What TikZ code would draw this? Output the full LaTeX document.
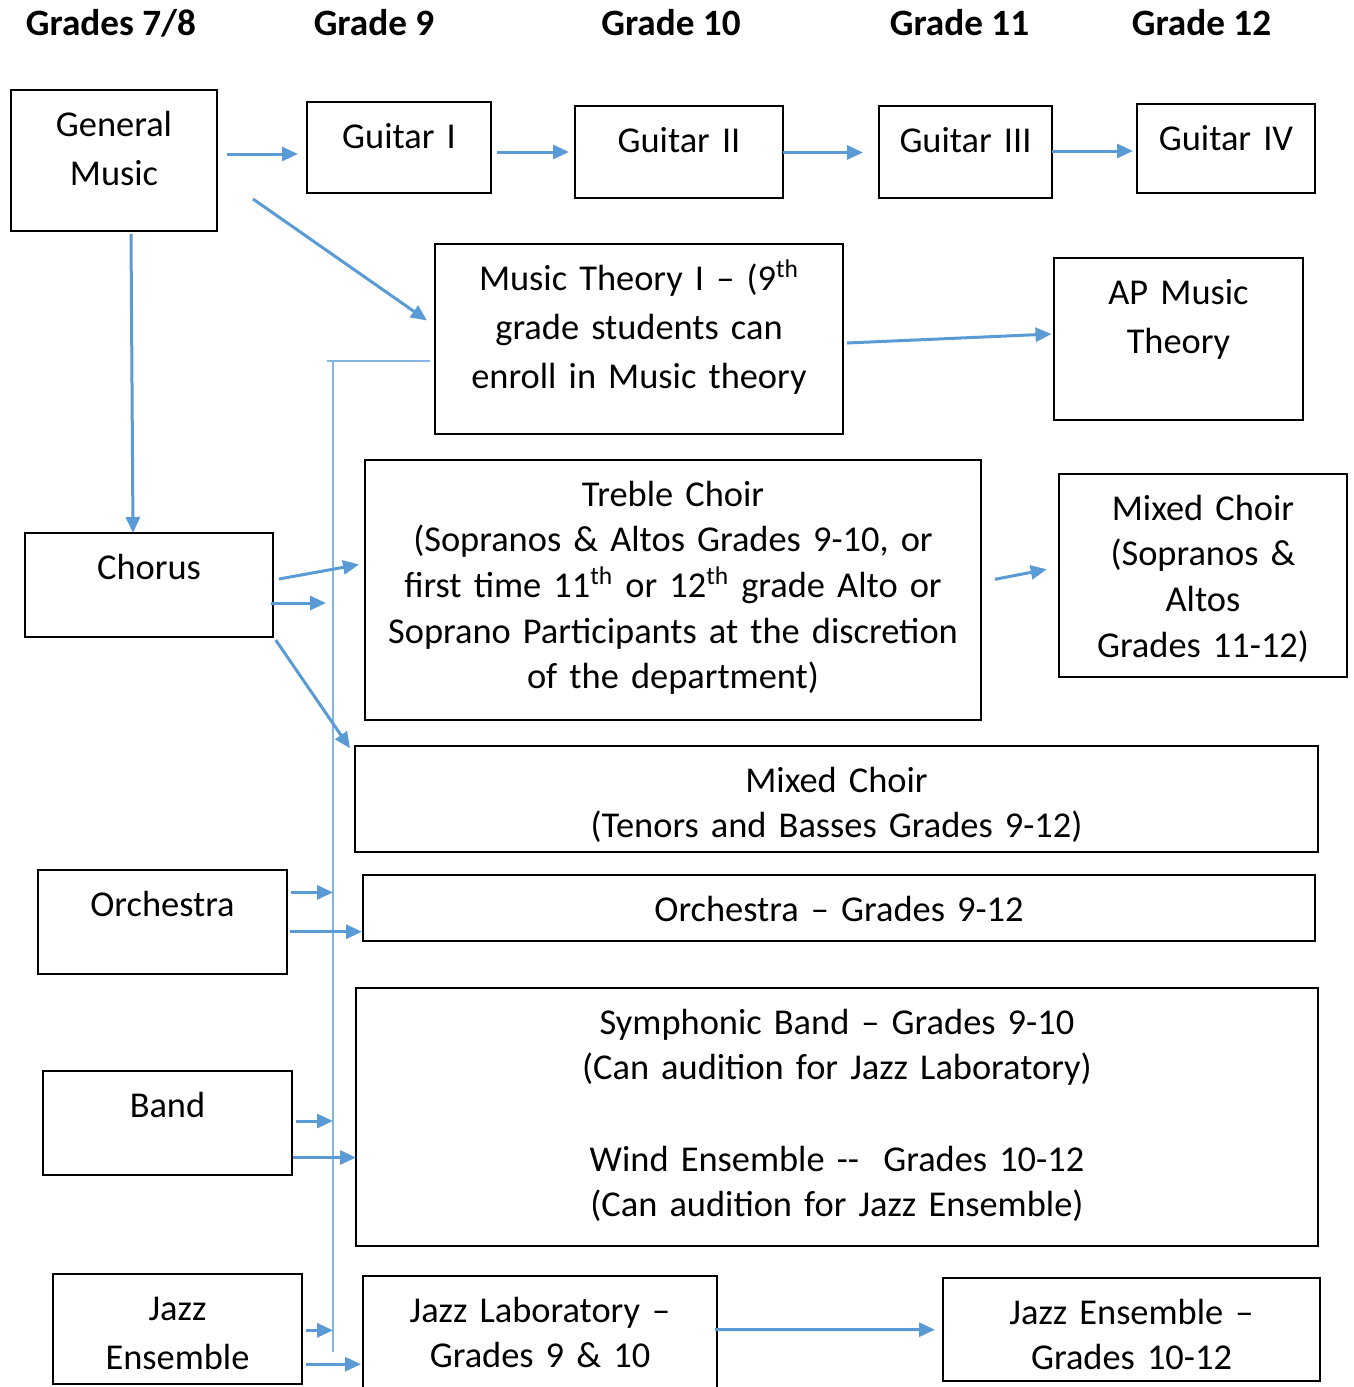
\documentclass[tikz,border=0pt]{standalone}
\usepackage{fontspec}
\setmainfont{Carlito}
\usetikzlibrary{arrows.meta}
\definecolor{lineblue}{HTML}{5B9BD5}

\begin{document}
\begin{tikzpicture}[x=0.5pt, y=-0.5pt,
    box/.style={draw, line width=1pt, anchor=north west, inner sep=0pt, outer sep=0pt},
    wh/.style 2 args={minimum width=#1*0.5pt, minimum height=#2*0.5pt},
    lbl/.style={anchor=base, yshift=-23pt, inner sep=0pt, text width=330pt, align=center,
        font=\fontsize{18.2pt}{22.85pt}\selectfont},
    loose/.style={lbl, font=\fontsize{18.2pt}{24.5pt}\selectfont},
    hdr/.style={anchor=base, font=\fontsize{18.6pt}{22pt}\selectfont\bfseries},
    arr/.style={-{Triangle[length=8pt, width=7pt]}, line width=1.5pt, draw=lineblue},
    railline/.style={draw=lineblue!75, line width=0.75pt}]
    \path[use as bounding box, fill=white] (0,0) rectangle (1354,1387);

    % Grade headers
    \node[hdr] (h78) at (111,35) {Grades 7/8};
    \node[hdr] (h9) at (374,35) {Grade 9};
    \node[hdr] (h10) at (671,35) {Grade 10};
    \node[hdr] (h11) at (959.5,35) {Grade 11};
    \node[hdr] (h12) at (1201.5,35) {Grade 12};

    % Courses
    \node[box, wh={206}{141}, label={[loose]north:{General\\Music}}] (gm) at (11,90) {};
    \node[box, wh={184}{91}, label={[lbl]north:{Guitar I}}] (g1) at (307,102) {};
    \node[box, wh={208}{92}, label={[lbl]north:{Guitar II}}] (g2) at (575,106) {};
    \node[box, wh={173}{92}, label={[lbl]north:{Guitar III}}] (g3) at (879,106) {};
    \node[box, wh={178}{89}, line width=0.6pt, label={[lbl]north:{Guitar IV}}] (g4) at (1137,104) {};
    \node[box, wh={408}{190}, label={[loose]north:{Music Theory I – (9\textsuperscript{th}\\grade students can\\enroll in Music theory}}] (theory) at (435,244) {};
    \node[box, wh={249}{162}, label={[loose]north:{AP Music\\Theory}}] (ap) at (1054,258) {};
    \node[box, wh={248}{104}, label={[lbl]north:{Chorus}}] (chorus) at (25,533) {};
    \node[box, wh={616}{260}, label={[lbl]north:{Treble Choir\\(Sopranos \& Altos Grades 9-10, or\\first time 11\textsuperscript{th} or 12\textsuperscript{th} grade Alto or\\Soprano Participants at the discretion\\of the department)}}] (treble) at (365,460) {};
    \node[box, wh={288}{203}, label={[lbl]north:{Mixed Choir\\(Sopranos \&\\Altos\\Grades 11-12)}}] (mixsa) at (1059,474) {};
    \node[box, wh={963}{106}, label={[lbl]north:{Mixed Choir\\(Tenors and Basses Grades 9-12)}}] (mixtb) at (355,746) {};
    \node[box, wh={249}{104}, label={[lbl]north:{Orchestra}}] (orch) at (38,870) {};
    \node[box, wh={952}{66}, label={[lbl]north:{Orchestra – Grades 9-12}}] (orchhs) at (363,875) {};
    \node[box, wh={249}{104}, label={[lbl]north:{Band}}] (band) at (43,1071) {};
    \node[box, wh={962}{258}, label={[lbl]north:{Symphonic Band – Grades 9-10\\(Can audition for Jazz Laboratory)\\\mbox{}\\Wind Ensemble -{}-\ \ Grades 10-12\\(Can audition for Jazz Ensemble)}}] (symph) at (356,988) {};
    \node[box, wh={249}{110}, label={[loose]north:{Jazz\\Ensemble}}] (jazz) at (53,1274) {};
    \node[box, wh={354}{115}, label={[lbl]north:{Jazz Laboratory –\\Grades 9 \& 10}}] (jazzlab) at (363,1276) {};
    \node[box, wh={377}{103}, label={[lbl]north:{Jazz Ensemble –\\Grades 10-12}}] (jazzens) at (943,1278) {};

    % Rail
    \coordinate (railtop) at (333,361);
    \coordinate (railbot) at (333,1352);
    \draw[railline, shorten >=2.5pt] ([xshift=-3pt]railtop) -- (theory.west |- railtop);
    \draw[railline] (railtop) -- (railbot);

    % Edges
    \draw[arr] ([shift={(10,-6.5)}]gm.east) -- ([shift={(-9,6.5)}]g1.west);
    \draw[arr] ([shift={(6,4.5)}]g1.east) -- ([shift={(-6,0)}]g2.west);
    \draw[arr] ([shift={(0,0.5)}]g2.east) -- ([shift={(-16,0.5)}]g3.west);
    \draw[arr] ([shift={(0,-1)}]g3.east) -- ([shift={(-4,2.5)}]g4.west);
    \draw[arr] ([shift={(36,-32)}]gm.south east) -- ([shift={(-8,-18.5)}]theory.west);
    \draw[arr] ([shift={(17,3)}]gm.south) -- ([shift={(-16,0)}]chorus.north);
    \draw[arr] ([shift={(4,4)}]theory.east) -- ([shift={(-2.5,-5)}]ap.west);
    \draw[arr] ([shift={(6,-6)}]chorus.east) -- ([shift={(-6,-25.5)}]treble.west);
    \draw[arr, shorten >=3.5pt] ([shift={(-2,18)}]chorus.east) coordinate (ch) -- (ch -| railtop);
    \draw[arr] ([shift={(2.7,3)}]chorus.south east) -- ([shift={(-5,2.3)}]mixtb.north west);
    \draw[arr] ([shift={(14,-10.7)}]treble.east) -- ([shift={(-12.3,-6.2)}]mixsa.west);
    \draw[arr] ([shift={(4,-29.6)}]orch.east) coordinate (or) -- (or -| railtop);
    \draw[arr] ([shift={(2.5,9.7)}]orch.east) -- ([shift={(-1,23.7)}]orchhs.west);
    \draw[arr] ([shift={(3.6,-2)}]band.east) coordinate (bd) -- (bd -| railtop);
    \draw[arr] ([shift={(0.5,34.5)}]band.east) -- ([shift={(0,40.5)}]symph.west);
    \draw[arr] ([shift={(3.8,1.3)}]jazz.east) coordinate (jz) -- (jz -| railtop);
    \draw[arr] ([shift={(4,35.2)}]jazz.east) -- ([shift={(-2,30.7)}]jazzlab.west);
    \draw[arr] ([shift={(-2,-3.8)}]jazzlab.east) -- ([shift={(-8,0.2)}]jazzens.west);
\end{tikzpicture}
\end{document}
